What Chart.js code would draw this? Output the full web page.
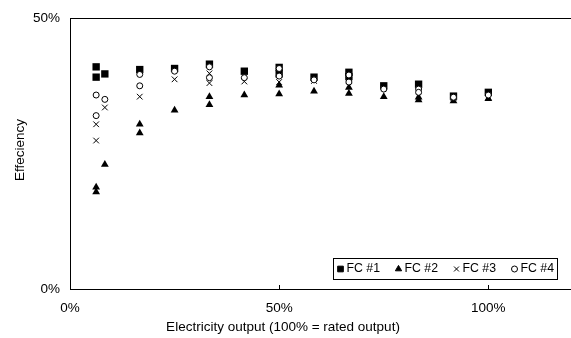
<!DOCTYPE html>
<html>
<head>
<meta charset="utf-8">
<script src="https://cdn.jsdelivr.net/npm/chart.js@4"></script>
<style>
  html, body { margin: 0; padding: 0; background: #fff; overflow: hidden; }
  #wrap { width: 600px; height: 338px; }
</style>
</head>
<body>
<div id="wrap"><canvas id="effChart" width="600" height="338"></canvas></div>
<script>
// Efficiency vs electricity output, four fuel cells
const fc1Output = [6.25, 6.25, 8.33, 16.67, 25, 33.33, 41.67, 50, 50, 58.33, 66.67, 66.67, 75, 83.33, 91.67, 100];
const fc1Eff    = [41.0, 39.1, 39.7, 40.5, 40.7, 41.5, 40.2, 40.9, 39.7, 39.1, 40.0, 39.2, 37.5, 37.8, 35.6, 36.3];

const fc2Output = [6.25, 6.25, 8.33, 16.67, 16.67, 25, 33.33, 33.33, 41.67, 50, 50, 58.33, 66.67, 66.67, 75, 83.33, 83.33, 91.67, 100];
const fc2Eff    = [18.8, 17.9, 23.0, 30.4, 28.8, 33.0, 35.5, 34.0, 35.8, 37.6, 36.0, 36.5, 37.2, 36.1, 35.5, 35.4, 34.9, 34.7, 35.1];

const fc3Output = [6.25, 6.25, 8.33, 16.67, 25, 33.33, 33.33, 41.67, 50, 58.33, 66.67, 75, 83.33, 91.67, 100];
const fc3Eff    = [30.4, 27.4, 33.5, 35.5, 38.7, 39.8, 38.0, 38.3, 38.2, 38.4, 38.5, 37.1, 36.5, 35.3, 35.5];

const fc4Output = [6.25, 6.25, 8.33, 16.67, 16.67, 25, 33.33, 33.33, 41.67, 50, 50, 58.33, 66.67, 66.67, 75, 83.33, 83.33, 91.67, 100];
const fc4Eff    = [35.8, 32.0, 35.0, 39.6, 37.5, 40.2, 41.0, 39.0, 39.0, 40.7, 39.3, 38.6, 39.5, 38.2, 36.9, 36.9, 36.3, 35.4, 35.8];

const xTicks = [0, 50, 100];
const yTicks = [0, 50];

const FONT = '"Liberation Sans", Arial, sans-serif';
const FONT_SIZE = 13.5;
const LEGEND_FONT_SIZE = 12.3;

const toPoints = (xs, ys) => xs.map((x, i) => ({ x: x, y: ys[i] }));

// frame around the plot, inward tick marks, axis titles and the boxed legend
const decorations = {
    id: 'decorations',
    afterDraw(chart) {
        const ctx = chart.ctx;
        const area = chart.chartArea;
        const xScale = chart.scales.x;
        ctx.save();
        ctx.strokeStyle = '#000';
        ctx.lineWidth = 1;
        ctx.strokeRect(Math.round(area.left) + 0.5, Math.round(area.top) + 0.5,
            Math.round(area.right - area.left), Math.round(area.bottom - area.top));

        xTicks.forEach(v => {
            const px = Math.round(xScale.getPixelForValue(v)) + 0.5;
            ctx.beginPath();
            ctx.moveTo(px, area.bottom);
            ctx.lineTo(px, area.bottom - 4);
            ctx.stroke();
        });

        ctx.fillStyle = '#000';
        ctx.font = FONT_SIZE + 'px ' + FONT;
        ctx.textAlign = 'center';
        ctx.textBaseline = 'middle';
        ctx.fillText('Electricity output (100% = rated output)', 283, 327);

        ctx.save();
        ctx.translate(20, 150);
        ctx.rotate(-Math.PI / 2);
        ctx.fillText('Effeciency', 0, 0);
        ctx.restore();

        // legend
        const box = { left: 333, top: 258, width: 224, height: 21 };
        ctx.fillStyle = '#fff';
        ctx.fillRect(box.left, box.top, box.width, box.height);
        ctx.strokeRect(box.left + 0.5, box.top + 0.5, box.width, box.height);
        ctx.font = LEGEND_FONT_SIZE + 'px ' + FONT;
        const cy = box.top + box.height / 2 + 0.5;
        let cx = box.left + 7.5;
        chart.data.datasets.forEach(ds => {
            ctx.fillStyle = ds.pointBackgroundColor;
            ctx.strokeStyle = '#000';
            ctx.lineWidth = 1;
            Chart.helpers.drawPoint(ctx, {
                pointStyle: ds.pointStyle,
                radius: ds.legendRadius,
                rotation: 0,
                borderWidth: 1
            }, cx, cy);
            ctx.fillStyle = '#000';
            ctx.textAlign = 'left';
            ctx.fillText(ds.label, cx + 6, cy);
            cx += 58;
        });
        ctx.restore();
    }
};

new Chart(document.getElementById('effChart'), {
    type: 'scatter',
    data: {
        datasets: [
            {
                label: 'FC #1',
                data: toPoints(fc1Output, fc1Eff),
                pointStyle: 'rect',
                pointRadius: 5.2,
                legendRadius: 4,
                pointBackgroundColor: '#000',
                pointBorderColor: '#000',
                pointBorderWidth: 0,
                order: 4
            },
            {
                label: 'FC #2',
                data: toPoints(fc2Output, fc2Eff),
                pointStyle: 'triangle',
                pointRadius: 4.5,
                legendRadius: 3.6,
                pointBackgroundColor: '#000',
                pointBorderColor: '#000',
                pointBorderWidth: 0,
                order: 3
            },
            {
                label: 'FC #3',
                data: toPoints(fc3Output, fc3Eff),
                pointStyle: 'crossRot',
                pointRadius: 4,
                legendRadius: 3.5,
                pointBackgroundColor: '#000',
                pointBorderColor: '#000',
                pointBorderWidth: 1,
                order: 2
            },
            {
                label: 'FC #4',
                data: toPoints(fc4Output, fc4Eff),
                pointStyle: 'circle',
                pointRadius: 3,
                legendRadius: 3,
                pointBackgroundColor: '#fff',
                pointBorderColor: '#000',
                pointBorderWidth: 1,
                order: 1
            }
        ]
    },
    options: {
        responsive: false,
        animation: false,
        layout: { padding: { left: 0, top: 18, right: 28, bottom: 0 } },
        plugins: {
            legend: { display: false },
            tooltip: { enabled: false }
        },
        scales: {
            x: {
                type: 'linear',
                min: 0,
                max: 120,
                afterBuildTicks: scale => { scale.ticks = xTicks.map(v => ({ value: v })); },
                afterFit: scale => { scale.height = 49; },
                grid: { display: false, drawTicks: false },
                border: { display: false },
                ticks: {
                    padding: 11,
                    color: '#000',
                    font: { family: FONT, size: FONT_SIZE },
                    maxRotation: 0,
                    callback: v => v + '%'
                }
            },
            y: {
                min: 0,
                max: 50,
                afterBuildTicks: scale => { scale.ticks = yTicks.map(v => ({ value: v })); },
                afterFit: scale => { scale.width = 70; },
                grid: { display: false, drawTicks: false },
                border: { display: false },
                ticks: {
                    padding: 10,
                    color: '#000',
                    font: { family: FONT, size: FONT_SIZE },
                    callback: v => v + '%'
                }
            }
        }
    },
    plugins: [decorations]
});
</script>
</body>
</html>
